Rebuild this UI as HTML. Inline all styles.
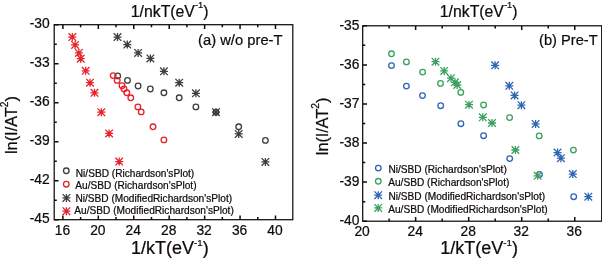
<!DOCTYPE html>
<html><head><meta charset="utf-8"><title>Richardson plots</title>
<style>
html,body{margin:0;padding:0;background:#fff;width:602px;height:258px;overflow:hidden;font-family:"Liberation Sans",sans-serif;}
</style></head>
<body>
<svg width="602" height="258" viewBox="0 0 602 258" style="position:absolute;left:0;top:0;display:block;will-change:transform" font-family="'Liberation Sans', sans-serif" fill="#100b0a">
<style>text{stroke:#100b0a;stroke-width:0.22px;}</style>
<rect x="0" y="0" width="602" height="258" fill="#ffffff"/>
<rect x="54.2" y="24.7" width="238.60000000000002" height="195.0" fill="none" stroke="#100b0a" stroke-width="1.25"/>
<path d="M62.90 219.7v-4.3M62.90 24.7v4.3M80.62 219.7v-2.6M80.62 24.7v2.6M98.33 219.7v-4.3M98.33 24.7v4.3M116.05 219.7v-2.6M116.05 24.7v2.6M133.76 219.7v-4.3M133.76 24.7v4.3M151.48 219.7v-2.6M151.48 24.7v2.6M169.20 219.7v-4.3M169.20 24.7v4.3M186.91 219.7v-2.6M186.91 24.7v2.6M204.63 219.7v-4.3M204.63 24.7v4.3M222.34 219.7v-2.6M222.34 24.7v2.6M240.06 219.7v-4.3M240.06 24.7v4.3M257.78 219.7v-2.6M257.78 24.7v2.6M275.49 219.7v-4.3M275.49 24.7v4.3M54.2 24.70h4.3M54.2 44.20h2.6M54.2 63.70h4.3M54.2 83.20h2.6M54.2 102.70h4.3M54.2 122.20h2.6M54.2 141.70h4.3M54.2 161.20h2.6M54.2 180.70h4.3M54.2 200.20h2.6M54.2 219.70h4.3" stroke="#100b0a" stroke-width="1.5" fill="none"/>
<text x="49.7" y="28.3" font-size="13.8" text-anchor="end" >-30</text>
<text x="49.7" y="67.3" font-size="13.8" text-anchor="end" >-33</text>
<text x="49.7" y="106.3" font-size="13.8" text-anchor="end" >-36</text>
<text x="49.7" y="145.3" font-size="13.8" text-anchor="end" >-39</text>
<text x="49.7" y="184.3" font-size="13.8" text-anchor="end" >-42</text>
<text x="49.7" y="223.3" font-size="13.8" text-anchor="end" >-45</text>
<text x="62.4" y="235.0" font-size="13.8" text-anchor="middle" >16</text>
<text x="97.83" y="235.0" font-size="13.8" text-anchor="middle" >20</text>
<text x="133.26" y="235.0" font-size="13.8" text-anchor="middle" >24</text>
<text x="168.7" y="235.0" font-size="13.8" text-anchor="middle" >28</text>
<text x="204.13" y="235.0" font-size="13.8" text-anchor="middle" >32</text>
<text x="239.56" y="235.0" font-size="13.8" text-anchor="middle" >36</text>
<text x="274.99" y="235.0" font-size="13.8" text-anchor="middle" >40</text>
<text x="130.8" y="16.7" font-size="15.8" text-anchor="start" >1/nkT(eV<tspan font-size="9.4" dy="-9.0">-1</tspan><tspan dy="9.0">)</tspan></text>
<text x="131.0" y="253.5" font-size="18.0" text-anchor="start" >1/kT(eV<tspan font-size="9.8" dy="-7.8">-1</tspan><tspan dy="7.8">)</tspan></text>
<text transform="translate(17.0,125.0) rotate(-90)" font-size="16.35" text-anchor="middle">ln(I/AT<tspan font-size="10.3" dy="-9.3">2</tspan><tspan dy="9.3">)</tspan></text>
<text x="198.1" y="44.6" font-size="14.75" text-anchor="start" >(a) w/o pre-T</text>
<circle cx="117.70" cy="75.90" r="2.8" stroke="#3e3e3e" stroke-width="1.3" fill="none"/>
<circle cx="127.50" cy="80.40" r="2.8" stroke="#3e3e3e" stroke-width="1.3" fill="none"/>
<circle cx="138.10" cy="86.00" r="2.8" stroke="#3e3e3e" stroke-width="1.3" fill="none"/>
<circle cx="150.30" cy="89.00" r="2.8" stroke="#3e3e3e" stroke-width="1.3" fill="none"/>
<circle cx="163.90" cy="92.80" r="2.8" stroke="#3e3e3e" stroke-width="1.3" fill="none"/>
<circle cx="179.20" cy="97.80" r="2.8" stroke="#3e3e3e" stroke-width="1.3" fill="none"/>
<circle cx="195.90" cy="106.90" r="2.8" stroke="#3e3e3e" stroke-width="1.3" fill="none"/>
<circle cx="216.00" cy="112.20" r="2.8" stroke="#3e3e3e" stroke-width="1.3" fill="none"/>
<circle cx="238.70" cy="126.80" r="2.8" stroke="#3e3e3e" stroke-width="1.3" fill="none"/>
<circle cx="265.40" cy="140.40" r="2.8" stroke="#3e3e3e" stroke-width="1.3" fill="none"/>
<circle cx="113.20" cy="75.60" r="2.8" stroke="#e62129" stroke-width="1.3" fill="none"/>
<circle cx="117.20" cy="80.40" r="2.8" stroke="#e62129" stroke-width="1.3" fill="none"/>
<circle cx="122.00" cy="85.70" r="2.8" stroke="#e62129" stroke-width="1.3" fill="none"/>
<circle cx="124.00" cy="89.00" r="2.8" stroke="#e62129" stroke-width="1.3" fill="none"/>
<circle cx="126.80" cy="92.80" r="2.8" stroke="#e62129" stroke-width="1.3" fill="none"/>
<circle cx="130.80" cy="97.80" r="2.8" stroke="#e62129" stroke-width="1.3" fill="none"/>
<circle cx="137.90" cy="106.90" r="2.8" stroke="#e62129" stroke-width="1.3" fill="none"/>
<circle cx="141.20" cy="111.90" r="2.8" stroke="#e62129" stroke-width="1.3" fill="none"/>
<circle cx="153.00" cy="126.80" r="2.8" stroke="#e62129" stroke-width="1.3" fill="none"/>
<circle cx="163.90" cy="139.90" r="2.8" stroke="#e62129" stroke-width="1.3" fill="none"/>
<path d="M113.50 37.10H121.50M117.50 33.10V41.10M113.70 33.30L121.30 40.90M113.70 40.90L121.30 33.30" stroke="#3e3e3e" stroke-width="1.3" fill="none"/>
<path d="M123.30 44.60H131.30M127.30 40.60V48.60M123.50 40.80L131.10 48.40M123.50 48.40L131.10 40.80" stroke="#3e3e3e" stroke-width="1.3" fill="none"/>
<path d="M134.10 52.90H142.10M138.10 48.90V56.90M134.30 49.10L141.90 56.70M134.30 56.70L141.90 49.10" stroke="#3e3e3e" stroke-width="1.3" fill="none"/>
<path d="M146.40 58.40H154.40M150.40 54.40V62.40M146.60 54.60L154.20 62.20M146.60 62.20L154.20 54.60" stroke="#3e3e3e" stroke-width="1.3" fill="none"/>
<path d="M159.90 71.30H167.90M163.90 67.30V75.30M160.10 67.50L167.70 75.10M160.10 75.10L167.70 67.50" stroke="#3e3e3e" stroke-width="1.3" fill="none"/>
<path d="M175.20 82.70H183.20M179.20 78.70V86.70M175.40 78.90L183.00 86.50M175.40 86.50L183.00 78.90" stroke="#3e3e3e" stroke-width="1.3" fill="none"/>
<path d="M191.90 93.30H199.90M195.90 89.30V97.30M192.10 89.50L199.70 97.10M192.10 97.10L199.70 89.50" stroke="#3e3e3e" stroke-width="1.3" fill="none"/>
<path d="M212.00 112.20H220.00M216.00 108.20V116.20M212.20 108.40L219.80 116.00M212.20 116.00L219.80 108.40" stroke="#3e3e3e" stroke-width="1.3" fill="none"/>
<path d="M234.70 133.90H242.70M238.70 129.90V137.90M234.90 130.10L242.50 137.70M234.90 137.70L242.50 130.10" stroke="#3e3e3e" stroke-width="1.3" fill="none"/>
<path d="M261.40 161.90H269.40M265.40 157.90V165.90M261.60 158.10L269.20 165.70M261.60 165.70L269.20 158.10" stroke="#3e3e3e" stroke-width="1.3" fill="none"/>
<path d="M68.30 37.10H76.30M72.30 33.10V41.10M68.50 33.30L76.10 40.90M68.50 40.90L76.10 33.30" stroke="#e62129" stroke-width="1.3" fill="none"/>
<path d="M71.10 44.90H79.10M75.10 40.90V48.90M71.30 41.10L78.90 48.70M71.30 48.70L78.90 41.10" stroke="#e62129" stroke-width="1.3" fill="none"/>
<path d="M74.90 52.90H82.90M78.90 48.90V56.90M75.10 49.10L82.70 56.70M75.10 56.70L82.70 49.10" stroke="#e62129" stroke-width="1.3" fill="none"/>
<path d="M76.70 58.70H84.70M80.70 54.70V62.70M76.90 54.90L84.50 62.50M76.90 62.50L84.50 54.90" stroke="#e62129" stroke-width="1.3" fill="none"/>
<path d="M81.70 70.80H89.70M85.70 66.80V74.80M81.90 67.00L89.50 74.60M81.90 74.60L89.50 67.00" stroke="#e62129" stroke-width="1.3" fill="none"/>
<path d="M86.00 82.70H94.00M90.00 78.70V86.70M86.20 78.90L93.80 86.50M86.20 86.50L93.80 78.90" stroke="#e62129" stroke-width="1.3" fill="none"/>
<path d="M90.50 92.80H98.50M94.50 88.80V96.80M90.70 89.00L98.30 96.60M90.70 96.60L98.30 89.00" stroke="#e62129" stroke-width="1.3" fill="none"/>
<path d="M97.30 112.20H105.30M101.30 108.20V116.20M97.50 108.40L105.10 116.00M97.50 116.00L105.10 108.40" stroke="#e62129" stroke-width="1.3" fill="none"/>
<path d="M105.10 133.40H113.10M109.10 129.40V137.40M105.30 129.60L112.90 137.20M105.30 137.20L112.90 129.60" stroke="#e62129" stroke-width="1.3" fill="none"/>
<path d="M115.20 161.60H123.20M119.20 157.60V165.60M115.40 157.80L123.00 165.40M115.40 165.40L123.00 157.80" stroke="#e62129" stroke-width="1.3" fill="none"/>
<circle cx="66.30" cy="170.80" r="2.8" stroke="#3e3e3e" stroke-width="1.3" fill="none"/>
<circle cx="66.30" cy="184.20" r="2.8" stroke="#e62129" stroke-width="1.3" fill="none"/>
<path d="M62.40 197.90H70.40M66.40 193.90V201.90M62.60 194.10L70.20 201.70M62.60 201.70L70.20 194.10" stroke="#3e3e3e" stroke-width="1.3" fill="none"/>
<path d="M62.40 211.20H70.40M66.40 207.20V215.20M62.60 207.40L70.20 215.00M62.60 215.00L70.20 207.40" stroke="#e62129" stroke-width="1.3" fill="none"/>
<text x="75.8" y="177.1" font-size="10.15" text-anchor="start" >Ni/SBD (Richardson'sPlot)</text>
<text x="75.3" y="189.1" font-size="10.15" text-anchor="start" >Au/SBD (Richardson'sPlot)</text>
<text x="75.4" y="202.0" font-size="10.15" text-anchor="start" >Ni/SBD (ModifiedRichardson'sPlot)</text>
<text x="74.3" y="213.6" font-size="10.15" text-anchor="start" >Au/SBD (ModifiedRichardson'sPlot)</text>
<rect x="362.7" y="25.8" width="239.00000000000006" height="195.39999999999998" fill="none" stroke="#100b0a" stroke-width="1.25"/>
<path d="M389.12 221.2v-2.6M389.12 25.8v2.6M415.64 221.2v-4.3M415.64 25.8v4.3M442.16 221.2v-2.6M442.16 25.8v2.6M468.68 221.2v-4.3M468.68 25.8v4.3M495.20 221.2v-2.6M495.20 25.8v2.6M521.72 221.2v-4.3M521.72 25.8v4.3M548.24 221.2v-2.6M548.24 25.8v2.6M574.76 221.2v-4.3M574.76 25.8v4.3M362.7 25.80h4.3M362.7 45.34h2.6M362.7 64.88h4.3M362.7 84.42h2.6M362.7 103.96h4.3M362.7 123.50h2.6M362.7 143.04h4.3M362.7 162.58h2.6M362.7 182.12h4.3M362.7 201.66h2.6M362.7 221.20h4.3" stroke="#100b0a" stroke-width="1.5" fill="none"/>
<text x="359.4" y="29.5" font-size="13.8" text-anchor="end" >-35</text>
<text x="359.4" y="68.58" font-size="13.8" text-anchor="end" >-36</text>
<text x="359.4" y="107.66" font-size="13.8" text-anchor="end" >-37</text>
<text x="359.4" y="146.74" font-size="13.8" text-anchor="end" >-38</text>
<text x="359.4" y="185.82" font-size="13.8" text-anchor="end" >-39</text>
<text x="359.4" y="224.9" font-size="13.8" text-anchor="end" >-40</text>
<text x="362.1" y="236.0" font-size="13.8" text-anchor="middle" >20</text>
<text x="415.14" y="236.0" font-size="13.8" text-anchor="middle" >24</text>
<text x="468.18" y="236.0" font-size="13.8" text-anchor="middle" >28</text>
<text x="521.22" y="236.0" font-size="13.8" text-anchor="middle" >32</text>
<text x="574.26" y="236.0" font-size="13.8" text-anchor="middle" >36</text>
<text x="439.8" y="16.7" font-size="15.8" text-anchor="start" >1/nkT(eV<tspan font-size="9.4" dy="-9.0">-1</tspan><tspan dy="9.0">)</tspan></text>
<text x="440.2" y="253.5" font-size="18.0" text-anchor="start" >1/kT(eV<tspan font-size="9.8" dy="-7.8">-1</tspan><tspan dy="7.8">)</tspan></text>
<text transform="translate(327.7,126.4) rotate(-90)" font-size="16.2" text-anchor="middle">ln(I/AT<tspan font-size="10.3" dy="-8.6">2</tspan><tspan dy="8.6">)</tspan></text>
<text x="539.1" y="45.4" font-size="14.65" text-anchor="start" >(b) Pre-T</text>
<circle cx="391.50" cy="65.60" r="2.8" stroke="#2f65b5" stroke-width="1.3" fill="none"/>
<circle cx="406.40" cy="86.10" r="2.8" stroke="#2f65b5" stroke-width="1.3" fill="none"/>
<circle cx="422.50" cy="95.60" r="2.8" stroke="#2f65b5" stroke-width="1.3" fill="none"/>
<circle cx="440.70" cy="105.70" r="2.8" stroke="#2f65b5" stroke-width="1.3" fill="none"/>
<circle cx="460.90" cy="123.70" r="2.8" stroke="#2f65b5" stroke-width="1.3" fill="none"/>
<circle cx="483.60" cy="135.70" r="2.8" stroke="#2f65b5" stroke-width="1.3" fill="none"/>
<circle cx="509.70" cy="158.60" r="2.8" stroke="#2f65b5" stroke-width="1.3" fill="none"/>
<circle cx="539.40" cy="174.50" r="2.8" stroke="#2f65b5" stroke-width="1.3" fill="none"/>
<circle cx="573.70" cy="196.70" r="2.8" stroke="#2f65b5" stroke-width="1.3" fill="none"/>
<circle cx="391.50" cy="53.80" r="2.8" stroke="#3ba05f" stroke-width="1.3" fill="none"/>
<circle cx="406.40" cy="61.90" r="2.8" stroke="#3ba05f" stroke-width="1.3" fill="none"/>
<circle cx="422.60" cy="72.10" r="2.8" stroke="#3ba05f" stroke-width="1.3" fill="none"/>
<circle cx="440.50" cy="83.40" r="2.8" stroke="#3ba05f" stroke-width="1.3" fill="none"/>
<circle cx="460.80" cy="92.40" r="2.8" stroke="#3ba05f" stroke-width="1.3" fill="none"/>
<circle cx="483.60" cy="105.00" r="2.8" stroke="#3ba05f" stroke-width="1.3" fill="none"/>
<circle cx="509.60" cy="117.60" r="2.8" stroke="#3ba05f" stroke-width="1.3" fill="none"/>
<circle cx="539.20" cy="135.90" r="2.8" stroke="#3ba05f" stroke-width="1.3" fill="none"/>
<circle cx="573.40" cy="150.10" r="2.8" stroke="#3ba05f" stroke-width="1.3" fill="none"/>
<path d="M491.10 65.30H499.10M495.10 61.30V69.30M491.30 61.50L498.90 69.10M491.30 69.10L498.90 61.50" stroke="#2f65b5" stroke-width="1.3" fill="none"/>
<path d="M505.30 85.80H513.30M509.30 81.80V89.80M505.50 82.00L513.10 89.60M505.50 89.60L513.10 82.00" stroke="#2f65b5" stroke-width="1.3" fill="none"/>
<path d="M510.60 95.40H518.60M514.60 91.40V99.40M510.80 91.60L518.40 99.20M510.80 99.20L518.40 91.60" stroke="#2f65b5" stroke-width="1.3" fill="none"/>
<path d="M517.40 105.20H525.40M521.40 101.20V109.20M517.60 101.40L525.20 109.00M517.60 109.00L525.20 101.40" stroke="#2f65b5" stroke-width="1.3" fill="none"/>
<path d="M531.60 123.90H539.60M535.60 119.90V127.90M531.80 120.10L539.40 127.70M531.80 127.70L539.40 120.10" stroke="#2f65b5" stroke-width="1.3" fill="none"/>
<path d="M553.50 152.60H561.50M557.50 148.60V156.60M553.70 148.80L561.30 156.40M553.70 156.40L561.30 148.80" stroke="#2f65b5" stroke-width="1.3" fill="none"/>
<path d="M556.90 158.20H564.90M560.90 154.20V162.20M557.10 154.40L564.70 162.00M557.10 162.00L564.70 154.40" stroke="#2f65b5" stroke-width="1.3" fill="none"/>
<path d="M568.80 174.10H576.80M572.80 170.10V178.10M569.00 170.30L576.60 177.90M569.00 177.90L576.60 170.30" stroke="#2f65b5" stroke-width="1.3" fill="none"/>
<path d="M584.30 196.70H592.30M588.30 192.70V200.70M584.50 192.90L592.10 200.50M584.50 200.50L592.10 192.90" stroke="#2f65b5" stroke-width="1.3" fill="none"/>
<path d="M431.50 61.70H439.50M435.50 57.70V65.70M431.70 57.90L439.30 65.50M431.70 65.50L439.30 57.90" stroke="#3ba05f" stroke-width="1.3" fill="none"/>
<path d="M440.20 70.90H448.20M444.20 66.90V74.90M440.40 67.10L448.00 74.70M440.40 74.70L448.00 67.10" stroke="#3ba05f" stroke-width="1.3" fill="none"/>
<path d="M446.90 78.20H454.90M450.90 74.20V82.20M447.10 74.40L454.70 82.00M447.10 82.00L454.70 74.40" stroke="#3ba05f" stroke-width="1.3" fill="none"/>
<path d="M451.00 82.30H459.00M455.00 78.30V86.30M451.20 78.50L458.80 86.10M451.20 86.10L458.80 78.50" stroke="#3ba05f" stroke-width="1.3" fill="none"/>
<path d="M453.20 85.00H461.20M457.20 81.00V89.00M453.40 81.20L461.00 88.80M453.40 88.80L461.00 81.20" stroke="#3ba05f" stroke-width="1.3" fill="none"/>
<path d="M465.00 104.70H473.00M469.00 100.70V108.70M465.20 100.90L472.80 108.50M465.20 108.50L472.80 100.90" stroke="#3ba05f" stroke-width="1.3" fill="none"/>
<path d="M478.80 117.30H486.80M482.80 113.30V121.30M479.00 113.50L486.60 121.10M479.00 121.10L486.60 113.50" stroke="#3ba05f" stroke-width="1.3" fill="none"/>
<path d="M488.00 123.00H496.00M492.00 119.00V127.00M488.20 119.20L495.80 126.80M488.20 126.80L495.80 119.20" stroke="#3ba05f" stroke-width="1.3" fill="none"/>
<path d="M511.40 150.00H519.40M515.40 146.00V154.00M511.60 146.20L519.20 153.80M511.60 153.80L519.20 146.20" stroke="#3ba05f" stroke-width="1.3" fill="none"/>
<path d="M533.70 175.80H541.70M537.70 171.80V179.80M533.90 172.00L541.50 179.60M533.90 179.60L541.50 172.00" stroke="#3ba05f" stroke-width="1.3" fill="none"/>
<circle cx="378.30" cy="168.10" r="2.8" stroke="#2f65b5" stroke-width="1.3" fill="none"/>
<circle cx="378.30" cy="181.30" r="2.8" stroke="#3ba05f" stroke-width="1.3" fill="none"/>
<path d="M374.20 195.20H382.20M378.20 191.20V199.20M374.40 191.40L382.00 199.00M374.40 199.00L382.00 191.40" stroke="#2f65b5" stroke-width="1.3" fill="none"/>
<path d="M374.20 207.90H382.20M378.20 203.90V211.90M374.40 204.10L382.00 211.70M374.40 211.70L382.00 204.10" stroke="#3ba05f" stroke-width="1.3" fill="none"/>
<text x="388.4" y="172.8" font-size="10.15" text-anchor="start" >Ni/SBD (Richardson'sPlot)</text>
<text x="388.2" y="186.4" font-size="10.15" text-anchor="start" >Au/SBD (Richardson'sPlot)</text>
<text x="388.4" y="199.7" font-size="10.15" text-anchor="start" >Ni/SBD (ModifiedRichardson'sPlot)</text>
<text x="388.2" y="213.0" font-size="10.15" text-anchor="start" >Au/SBD (ModifiedRichardson'sPlot)</text>
</svg>
</body></html>
